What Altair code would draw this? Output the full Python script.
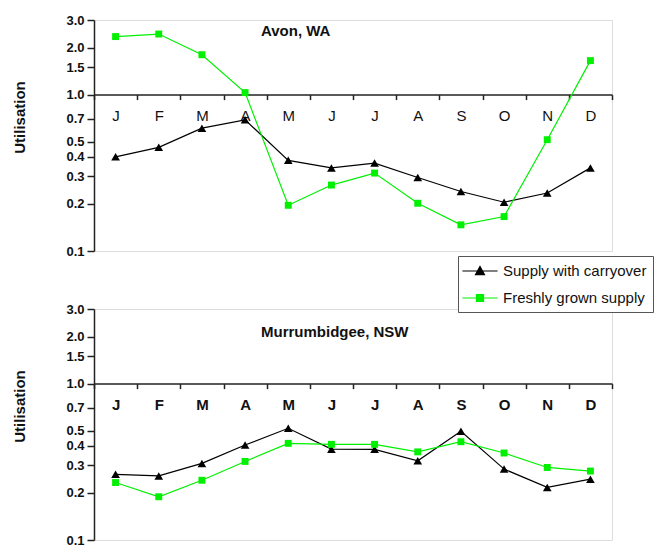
import math
import altair as alt
import pandas as pd

# Month initials along the x axis and the two supply series
months = ["J", "F", "M", "A", "M", "J", "J", "A", "S", "O", "N", "D"]
series = ["Supply with carryover", "Freshly grown supply"]

# Monthly utilisation, Avon (WA)
avon_carryover = [0.40, 0.46, 0.61, 0.69, 0.38, 0.34, 0.365, 0.295, 0.24, 0.205, 0.235, 0.34]
avon_fresh = [2.35, 2.44, 1.80, 1.03, 0.196, 0.264, 0.315, 0.202, 0.147, 0.166, 0.515, 1.65]

# Monthly utilisation, Murrumbidgee (NSW)
murr_carryover = [0.263, 0.257, 0.309, 0.405, 0.518, 0.381, 0.38, 0.321, 0.495, 0.284, 0.217, 0.245]
murr_fresh = [0.233, 0.189, 0.241, 0.318, 0.415, 0.409, 0.409, 0.366, 0.425, 0.360, 0.291, 0.276]

y_ticks = [0.1, 0.2, 0.3, 0.4, 0.5, 0.7, 1.0, 1.5, 2.0, 3.0]
y_domain = [0.1, 3.0]

BLACK = "#000000"
GREEN = "#00f000"
AXIS = "#222222"
FONT = "Liberation Sans"

W, H = 518, 231
# the month axis crosses the log axis at utilisation = 1.0
cross = H * math.log10(1.0 / y_domain[0]) / math.log10(y_domain[1] / y_domain[0])

month_expr = "[" + ",".join("'%s'" % m for m in months) + "][datum.value]"

# legend keys: a short line with the series marker in its middle
tri = "M-2.2,0H2.2M0,-0.55L0.56,0.45L-0.56,0.45Z"
sq = "M-2.2,0H2.2M-0.44,-0.44H0.44V0.44H-0.44Z"
shape_expr = "datum.value === '%s' ? '%s' : '%s'" % (series[0], tri, sq)
fill_expr = "datum.value === '%s' ? '%s' : '%s'" % (series[0], BLACK, GREEN)


def panel(title, title_y, carry, fresh, show_legend, month_weight):
    df = pd.DataFrame({
        "idx": list(range(12)) * 2,
        "series": [series[0]] * 12 + [series[1]] * 12,
        "value": carry + fresh,
    })
    if show_legend:
        legend = alt.Legend(
            title=None, orient="none", legendX=364, legendY=236,
            labelFont=FONT, labelFontSize=15, labelColor="#111",
            symbolSize=256, symbolStrokeWidth=1.2, symbolOffset=7,
            symbolType={"expr": shape_expr},
            symbolFillColor={"expr": fill_expr},
            symbolStrokeColor={"expr": fill_expr},
            symbolOpacity=1,
            strokeColor="#555555", fillColor="white",
            padding=6, rowPadding=10, labelOffset=14,
        )
    else:
        legend = None
    color = alt.Color("series:N", scale=alt.Scale(domain=series, range=[BLACK, GREEN]), legend=legend)
    x = alt.X(
        "idx:O",
        scale=alt.Scale(type="band", paddingInner=0, paddingOuter=0),
        bandPosition=0.5,
        axis=alt.Axis(
            title=None, orient="bottom", offset=-cross, tickBand="extent",
            labelExpr=month_expr, labelAngle=0, labelFont=FONT, labelFontSize=15,
            labelFontWeight=month_weight, labelColor="#111", labelPadding=9,
            tickSize=5, tickColor=AXIS, tickWidth=1.5,
            domainColor=AXIS, domainWidth=1.5, grid=False,
        ),
    )
    y = alt.Y(
        "value:Q",
        scale=alt.Scale(type="log", domain=y_domain),
        axis=alt.Axis(
            values=y_ticks, format=".1f", grid=False,
            labelFont=FONT, labelFontSize=13, labelFontWeight="bold", labelColor="#111",
            labelPadding=3, tickSize=7, tickColor=AXIS, tickWidth=1.5,
            domainColor=AXIS, domainWidth=1.5,
            title="Utilisation", titleFont=FONT, titleFontSize=15, titleFontWeight="bold",
            titleColor="#111", titleAngle=270, titleX=-75, titleY=97,
            titleAlign="center", titleBaseline="middle",
        ),
    )
    base = alt.Chart(df).encode(x=x, y=y)
    lines = base.mark_line(strokeWidth=1.2).encode(color=color)
    triangles = base.transform_filter(alt.datum.series == series[0]).mark_point(
        shape="triangle-up", filled=True, opacity=1, size=75, color=BLACK
    )
    squares = base.transform_filter(alt.datum.series == series[1]).mark_point(
        shape="square", filled=True, opacity=1, size=48, color=GREEN
    )
    label = alt.Chart(pd.DataFrame({"t": [title]})).mark_text(
        align="left", baseline="middle", font=FONT, fontSize=15, fontWeight="bold", color="#111"
    ).encode(text="t:N", x=alt.value(167), y=alt.value(title_y))
    return alt.layer(lines, triangles, squares, label).properties(width=W, height=H)


top = panel("Avon, WA", 11, avon_carryover, avon_fresh, True, "normal")
bottom = panel("Murrumbidgee, NSW", 23, murr_carryover, murr_fresh, False, "bold")

chart = alt.vconcat(top, bottom, spacing=43).properties(
    padding={"left": 11, "top": 13, "right": 0, "bottom": 0}
).configure_view(stroke=None).configure(background="white")

chart.save("out.html", embed_options={"renderer": "svg", "actions": False})
